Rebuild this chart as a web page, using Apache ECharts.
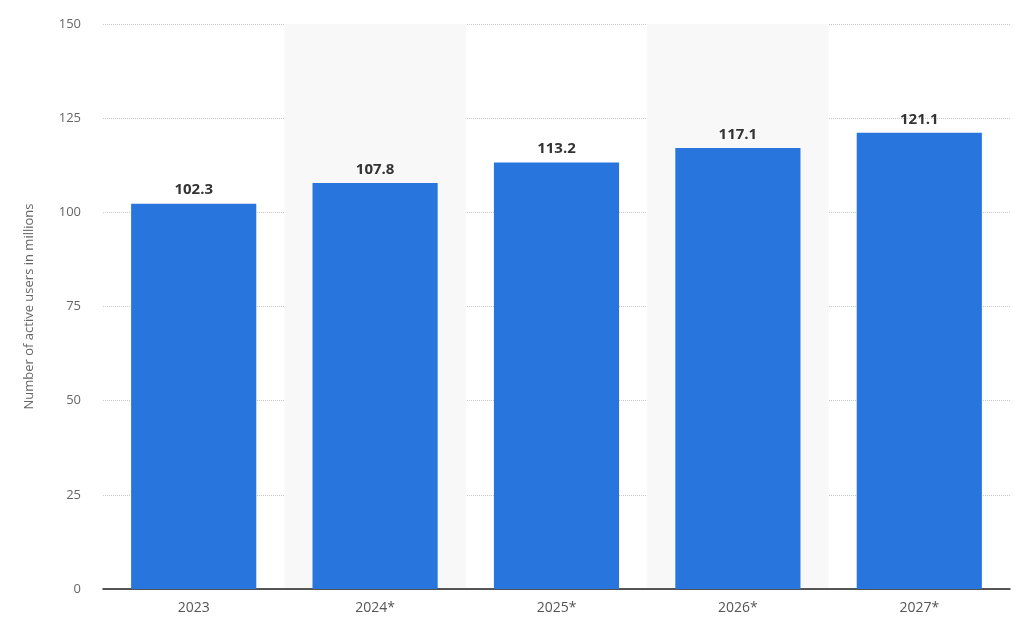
<!DOCTYPE html>
<html><head><meta charset="utf-8">
<script src="https://cdn.jsdelivr.net/npm/echarts@6/dist/echarts.min.js"></script>
<style>html,body{margin:0;padding:0;background:#fff}#c{width:1024px;height:631px}</style>
</head><body><div id="c"></div>
<script>
const categories = ['2023','2024*','2025*','2026*','2027*'];
const values = [102.3,107.8,113.2,117.1,121.1];
const chart = echarts.init(document.getElementById('c'));
chart.setOption({
  animation:false,
  grid:{left:103,right:14,top:24,bottom:42},
  xAxis:{type:'category',data:categories,
    axisLine:{lineStyle:{color:'#222',width:1.5}},
    axisTick:{show:false},
    axisLabel:{color:'#555',fontSize:14,fontFamily:'Open Sans',margin:12},
    splitArea:{show:true,areaStyle:{color:['rgba(0,0,0,0)','#f8f8f8']}}},
  yAxis:{type:'value',min:0,max:150,interval:25,
    name:'Number of active users in millions',nameLocation:'middle',nameGap:67,
    nameTextStyle:{color:'#666',fontSize:13,fontFamily:'Open Sans'},
    axisLabel:{color:'#666',fontSize:13,fontFamily:'Open Sans',margin:22},
    splitLine:{lineStyle:{color:'#c8c8c8',type:'dotted'}}},
  series:[{type:'bar',data:values,barWidth:'69%',
    itemStyle:{color:'#2876dd'},
    label:{show:true,position:'top',color:'#333',fontWeight:'bold',fontSize:15,fontFamily:'Open Sans',distance:6}}]
});
</script></body></html>
